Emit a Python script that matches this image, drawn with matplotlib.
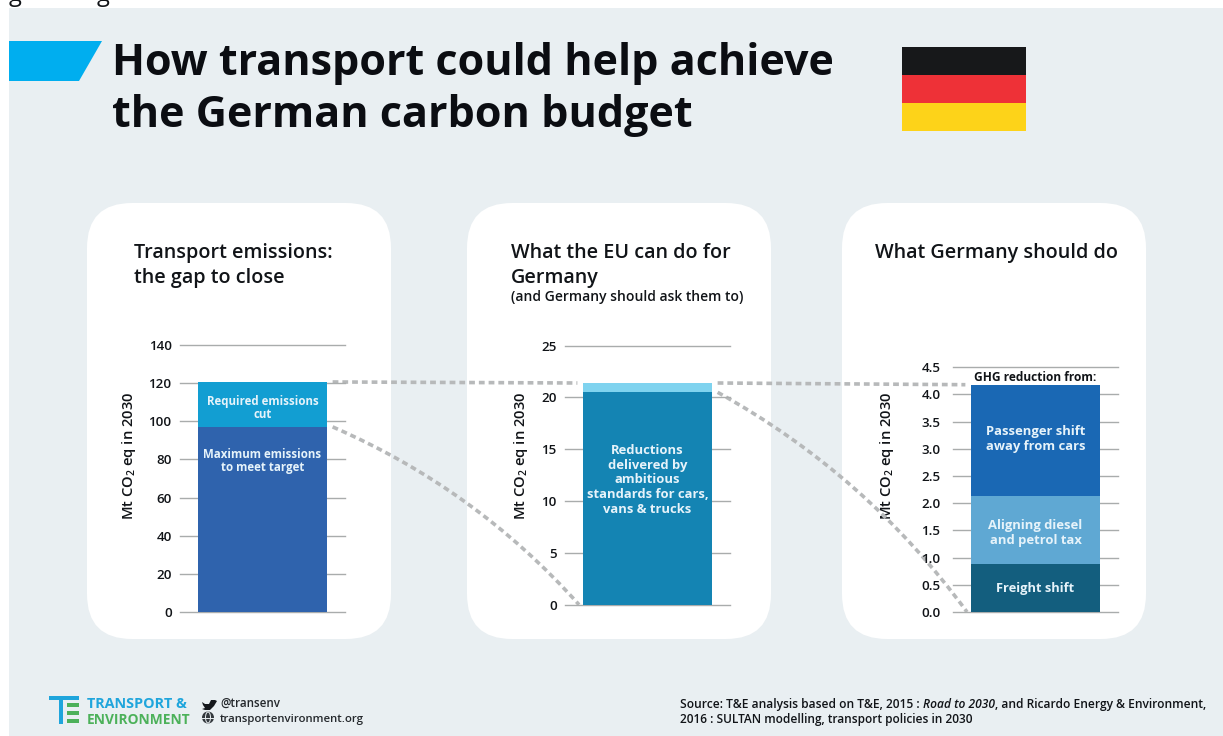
import matplotlib
matplotlib.use('Agg')
import matplotlib.pyplot as plt
from matplotlib.patches import FancyBboxPatch, Polygon, Rectangle, Circle, Ellipse, ConnectionPatch

W = 1223
H = 736

# data
emission_ticks = [0, 20, 40, 60, 80, 100, 120, 140]
max_emissions = 97
required_cut = 23.5

eu_ticks = [0, 5, 10, 15, 20, 25]
eu_standards = 20.5
eu_rest = 0.9

de_ticks = [0, 0.5, 1, 1.5, 2, 2.5, 3, 3.5, 4, 4.5]
de_tick_labels = ['0.0', '0.5', '1.0', '1.5', '2.0', '2.5', '3.0', '3.5', '4.0', '4.5']
freight_shift = 0.88
tax_align = 1.26
passenger_shift = 2.04

BG = '#e9eff2'
FONT = 'Open Sans'
TEXT = '#111418'
LABEL = '#e6f3fa'
GRID = '#a9acac'
DASH = '#b7b9ba'
BAR_W = 0.78

plt.rcParams['font.family'] = FONT
plt.rcParams['mathtext.default'] = 'regular'

fig = plt.figure(figsize=(W / 100, H / 100), dpi=100, facecolor='white')

# pixel layer for the background, panels and logo
back = fig.add_axes([0, 0, 1, 1], zorder=0)
back.set_xlim(0, W)
back.set_ylim(H, 0)
back.axis('off')

back.text(9, 1, 'g', fontsize=17, color=TEXT, va='baseline')
back.text(97, 1, 'g', fontsize=17, color=TEXT, va='baseline')
back.add_patch(Rectangle((9, 8), W - 9, H - 8, color=BG, lw=0))
back.add_patch(Polygon([(9, 41), (102, 41), (79, 81), (9, 81)], color='#00aeef', lw=0))

back.text(112, 75, 'How transport could help achieve', fontsize=31.1, fontweight='bold', color='#0b0d12')
back.text(112, 127, 'the German carbon budget', fontsize=31.1, fontweight='bold', color='#0b0d12')

# flag
back.add_patch(Rectangle((902, 47), 124, 28, color='#17181a', lw=0))
back.add_patch(Rectangle((902, 75), 124, 28, color='#ee3137', lw=0))
back.add_patch(Rectangle((902, 103), 124, 28, color='#fdd319', lw=0))

for px in [87, 467, 842]:
    back.add_patch(FancyBboxPatch((px + 45, 203 + 45), 304 - 90, 436 - 90,
                                  boxstyle='round,pad=45,rounding_size=45', fc='white', ec='none'))

back.text(134, 258, 'Transport emissions:', fontsize=14.2, fontweight='semibold', color=TEXT)
back.text(134, 283, 'the gap to close', fontsize=14.2, fontweight='semibold', color=TEXT)
back.text(511, 258, 'What the EU can do for', fontsize=14.2, fontweight='semibold', color=TEXT)
back.text(511, 283, 'Germany', fontsize=14.2, fontweight='semibold', color=TEXT)
back.text(511, 301, '(and Germany should ask them to)', fontsize=10, fontweight='semibold', color=TEXT)
back.text(875, 258, 'What Germany should do', fontsize=14.2, fontweight='semibold', color=TEXT)

for lx in [129, 521, 887]:
    back.text(lx, 456, 'Mt CO$_2$ eq in 2030', fontsize=10.6, fontweight='semibold', color=TEXT,
              rotation=90, ha='center', va='center')

# footer logo
back.add_patch(Rectangle((49, 696), 30, 4, color='#1fa5dc', lw=0))
back.add_patch(Rectangle((59, 700), 4, 24, color='#1fa5dc', lw=0))
for ey in [703, 711, 719]:
    back.add_patch(Rectangle((67, ey), 12, 3.5, color='#4cb15a', lw=0))
back.text(87, 708, 'TRANSPORT &', fontsize=10.4, fontweight='bold', color='#1fa5dc')
back.text(87, 724, 'ENVIRONMENT', fontsize=9.9, fontweight='bold', color='#4cb15a')
back.add_patch(Polygon([(202, 702), (205, 704), (209, 704), (211, 700), (215, 700), (217, 701),
                        (214, 706), (210, 710), (205, 710), (202, 709), (205, 708), (203, 705)],
                       color='#15181c', lw=0))
back.add_patch(Circle((208, 717.5), 6, fc='#33383d', ec='none'))
back.add_patch(Ellipse((208, 717.5), 5, 11, fc='none', ec=BG, lw=0.7))
back.plot([202, 214], [717.5, 717.5], color=BG, lw=0.7)
back.text(220, 707, '@transenv', fontsize=8.4, fontweight='semibold', color='#24282c')
back.text(220, 722, 'transportenvironment.org', fontsize=8.2, fontweight='semibold', color='#24282c')

# source line, pieces set one after the other for the italic title
renderer = fig.canvas.get_renderer()
sx = 680
for piece, style, gap in [('Source: T&E analysis based on T&E, 2015 :', 'normal', 3),
                          ('Road to 2030', 'italic', 0),
                          (', and Ricardo Energy & Environment,', 'normal', 0)]:
    t = back.text(sx, 708, piece, fontsize=8.68, fontweight='semibold', style=style, color=TEXT)
    sx = t.get_window_extent(renderer).x1 + gap
back.text(680, 723, '2016 : SULTAN modelling, transport policies in 2030', fontsize=8.6,
          fontweight='semibold', color=TEXT)


def chart_axes(x0, x1, y_bottom, y_top, ymax, ticks, labels, pad):
    ax = fig.add_axes([x0 / W, 1 - y_bottom / H, (x1 - x0) / W, (y_bottom - y_top) / H], zorder=2)
    ax.patch.set_alpha(0)
    ax.set_xlim(0, 1)
    ax.set_ylim(0, ymax)
    ax.set_xticks([])
    ax.set_yticks(ticks)
    ax.set_yticklabels(labels, fontsize=9.6, fontweight='semibold', color=TEXT)
    ax.tick_params(axis='y', length=0, pad=pad)
    ax.grid(axis='y', color=GRID, lw=1, clip_on=False)
    ax.set_axisbelow(True)
    for s in ax.spines.values():
        s.set_visible(False)
    return ax


ax1 = chart_axes(180, 345, 612.3, 344.7, 140, emission_ticks, [str(t) for t in emission_ticks], 6)
ax1.bar(0.5, max_emissions, BAR_W, color='#2f63ad')
ax1.bar(0.5, required_cut, BAR_W, bottom=max_emissions, color='#129ed2')
ax1.text(0.5, 107, 'Required emissions\ncut', color=LABEL, fontsize=8.3,
         fontweight='bold', ha='center', va='center', linespacing=1.02)
ax1.text(0.5, 79, 'Maximum emissions\nto meet target', color=LABEL, fontsize=8.3,
         fontweight='bold', ha='center', va='center', linespacing=1.02)

ax2 = chart_axes(565, 730, 604.7, 345.7, 25, eu_ticks, [str(t) for t in eu_ticks], 6)
ax2.bar(0.5, eu_standards, BAR_W, color='#1484b3')
ax2.bar(0.5, eu_rest, BAR_W, bottom=eu_standards, color='#7fd3ef')
ax2.text(0.5, 12.04, 'Reductions\ndelivered by\nambitious\nstandards for cars,\nvans & trucks', color=LABEL,
         fontsize=9.4, fontweight='bold', ha='center', va='center', linespacing=1.17)

ax3 = chart_axes(953, 1118, 612, 367.3, 4.5, de_ticks, de_tick_labels, 9)
ax3.bar(0.5, freight_shift, BAR_W, color='#135e7e')
ax3.bar(0.5, tax_align, BAR_W, bottom=freight_shift, color='#5fa8d3')
ax3.bar(0.5, passenger_shift, BAR_W, bottom=freight_shift + tax_align, color='#1a68b4')
ax3.text(0.5, 3.18, 'Passenger shift\naway from cars', color=LABEL, fontsize=9.4, fontweight='bold',
         ha='center', va='center', linespacing=1.17)
ax3.text(0.5, 1.45, 'Aligning diesel\nand petrol tax', color=LABEL, fontsize=9.4, fontweight='bold',
         ha='center', va='center', linespacing=1.17)
ax3.text(0.5, 0.43, 'Freight shift', color=LABEL, fontsize=9.3, fontweight='bold', ha='center', va='center')
ax3.text(0.5, 4.32, 'GHG reduction from:', color=TEXT, fontsize=8.6, fontweight='bold', ha='center', va='center')


def connect(ax_a, xa, ya, ax_b, xb, yb, rad=0.0):
    con = ConnectionPatch((xa, ya), (xb, yb), coordsA=ax_a.transData, coordsB=ax_b.transData,
                          connectionstyle='arc3,rad=%s' % rad, color=DASH, lw=2.6,
                          linestyle=(0, (1.6, 1.1)), capstyle='butt', shrinkA=0, shrinkB=0, zorder=1)
    fig.add_artist(con)


top_1 = max_emissions + required_cut
top_2 = eu_standards + eu_rest
top_3 = freight_shift + tax_align + passenger_shift
right = 0.5 + BAR_W / 2 + 0.035
left = 0.5 - BAR_W / 2 - 0.035
connect(ax1, right, top_1, ax2, left, top_2)
connect(ax2, right, top_2, ax3, left, top_3)
connect(ax1, right, max_emissions, ax2, left + 0.01, 0, -0.11)
connect(ax2, right, eu_standards, ax3, left + 0.01, 0, -0.11)

fig.savefig('out.png', dpi=100, facecolor='white')
